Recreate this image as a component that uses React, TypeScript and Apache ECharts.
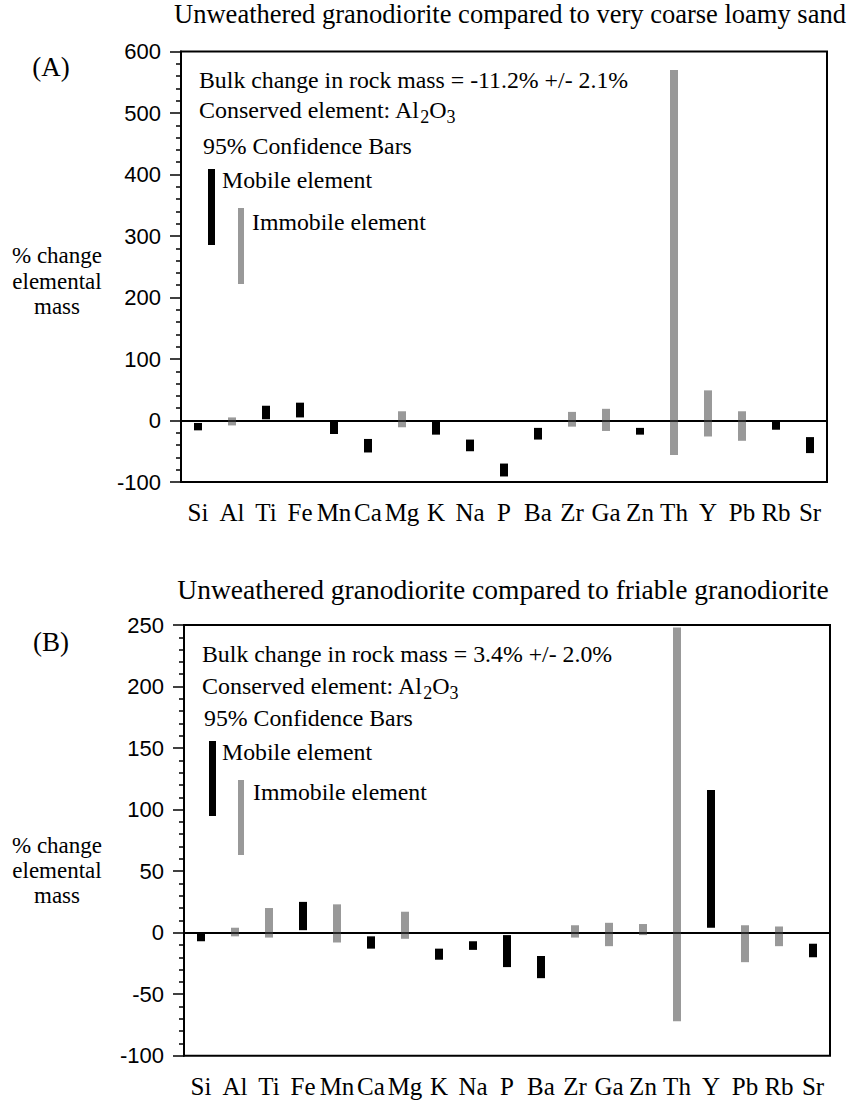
import React, { useEffect, useRef } from "react";
import * as echarts from "echarts";

const elements = ["Si", "Al", "Ti", "Fe", "Mn", "Ca", "Mg", "K", "Na", "P", "Ba", "Zr", "Ga", "Zn", "Th", "Y", "Pb", "Rb", "Sr"];

// Panel A: unweathered granodiorite vs very coarse loamy sand (95% confidence range, % change)
const lowA = [-16, -8, 2, 5, -22, -52, -11, -23, -50, -91, -31, -10, -17, -23, -56, -26, -33, -15, -53];
const highA = [-4, 5, 24, 29, -1, -30, 15, -1, -31, -70, -12, 14, 19, -12, 570, 49, 15, 0, -27];
// 1 = mobile element (black), 0 = immobile element (grey)
const mobileA = [1, 0, 1, 1, 1, 1, 0, 1, 1, 1, 1, 0, 0, 1, 0, 0, 0, 1, 1];

// Panel B: unweathered granodiorite vs friable granodiorite
const lowB = [-7, -3, -4, 2, -8, -13, -5, -22, -14, -28, -37, -4, -11, -2, -72, 4, -24, -11, -20];
const highB = [-1, 4, 20, 25, 23, -3, 17, -13, -7, -2, -19, 6, 8, 7, 248, 116, 6, 5, -9];
const mobileB = [1, 0, 0, 1, 0, 1, 0, 1, 1, 1, 1, 0, 0, 0, 0, 1, 0, 0, 1];

const yTicksA = { min: -100, max: 600, interval: 100 };
const yTicksB = { min: -100, max: 250, interval: 50 };

const titleA = "Unweathered granodiorite compared to very coarse loamy sand";
const titleB = "Unweathered granodiorite compared to friable granodiorite";
const bulkA = "Bulk change in rock mass = -11.2% +/- 2.1%";
const bulkB = "Bulk change in rock mass = 3.4% +/- 2.0%";

const SERIF = "Liberation Serif";
const SANS = "Liberation Sans";
const BLACK = "#000000";
const GREY = "#999999";

function barSeries(gridIndex: number, low: number[], high: number[], mobile: number[]) {
  return {
    type: "custom",
    xAxisIndex: gridIndex,
    yAxisIndex: gridIndex,
    data: elements.map((_, i) => [i, low[i], high[i], mobile[i]]),
    encode: { x: 0, y: [1, 2] },
    renderItem: (params: any, api: any) => {
      const idx = api.value(0);
      const top = api.coord([idx, api.value(2)]);
      const bot = api.coord([idx, api.value(1)]);
      const w = 8;
      return {
        type: "rect",
        shape: { x: top[0] - w / 2, y: top[1], width: w, height: bot[1] - top[1] },
        style: { fill: api.value(3) === 1 ? BLACK : GREY },
      };
    },
    markLine: {
      silent: true,
      symbol: ["none", "none"],
      label: { show: false },
      lineStyle: { color: BLACK, width: 1.5, type: "solid" },
      data: [{ yAxis: 0 }],
    },
    z: 3,
  };
}

function xAxis(gridIndex: number) {
  return {
    type: "category",
    gridIndex,
    data: elements,
    boundaryGap: true,
    axisLine: { lineStyle: { color: BLACK, width: 2 } },
    axisTick: { alignWithLabel: true, length: 12, lineStyle: { color: BLACK, width: 2 } },
    axisLabel: { color: BLACK, fontFamily: SERIF, fontSize: 25, margin: 18, interval: 0 },
    splitLine: { show: false },
  };
}

function yAxis(gridIndex: number, t: { min: number; max: number; interval: number }) {
  return {
    type: "value",
    gridIndex,
    min: t.min,
    max: t.max,
    interval: t.interval,
    axisLine: { show: true, lineStyle: { color: BLACK, width: 2 } },
    axisTick: { show: true, length: 11, lineStyle: { color: BLACK, width: 1.5 } },
    minorTick: { show: true, splitNumber: 5, length: 5, lineStyle: { color: BLACK, width: 1.5 } },
    axisLabel: { color: BLACK, fontFamily: SANS, fontSize: 22, margin: 20 },
    splitLine: { show: false },
    minorSplitLine: { show: false },
  };
}

function txt(text: string, x: number, y: number, size: number, align = "left") {
  return {
    type: "text",
    x,
    y,
    silent: true,
    style: {
      text,
      fill: BLACK,
      fontSize: size,
      fontFamily: SERIF,
      textAlign: align,
      textVerticalAlign: "middle",
    },
  };
}

function conserved(x: number, y: number) {
  return {
    type: "text",
    x,
    y,
    silent: true,
    style: {
      text: "{m|Conserved element: Al}{s|2}{m|O}{s|3}",
      fill: BLACK,
      fontSize: 24,
      fontFamily: SERIF,
      textAlign: "left",
      textVerticalAlign: "middle",
      rich: {
        m: { fontSize: 24, fontFamily: SERIF, fill: BLACK },
        s: { fontSize: 18, fontFamily: SERIF, fill: BLACK, padding: [14, 0, 0, 0] },
      },
    },
  };
}

function rect(x: number, y: number, w: number, h: number, fill: string) {
  return { type: "rect", silent: true, shape: { x, y, width: w, height: h }, style: { fill } };
}

export default function App() {
  const ref = useRef<HTMLDivElement>(null);
  useEffect(() => {
    if (!ref.current) return;
    const chart = echarts.init(ref.current, undefined, { renderer: "svg" });
    chart.setOption({
      animation: false,
      backgroundColor: "#ffffff",
      grid: [
        { left: 181, top: 51.5, width: 646, height: 430.5, show: true, borderColor: BLACK, borderWidth: 2 },
        { left: 184, top: 625, width: 646, height: 430.7, show: true, borderColor: BLACK, borderWidth: 2 },
      ],
      xAxis: [xAxis(0), xAxis(1)],
      yAxis: [yAxis(0, yTicksA), yAxis(1, yTicksB)],
      series: [barSeries(0, lowA, highA, mobileA), barSeries(1, lowB, highB, mobileB)],
      graphic: [
        // Panel A
        txt(titleA, 510, 14, 26.5, "center"),
        txt("(A)", 51, 67, 27, "center"),
        txt("% change", 57, 255, 23, "center"),
        txt("elemental", 57, 281, 23, "center"),
        txt("mass", 57, 306, 23, "center"),
        txt(bulkA, 199, 80, 23.8),
        conserved(199, 110),
        txt("95% Confidence Bars", 203, 146, 23.8),
        rect(208, 169, 7, 76, BLACK),
        txt("Mobile element", 222, 180, 23.8),
        rect(238, 208, 6, 76, GREY),
        txt("Immobile element", 252, 222, 23.8),
        // Panel B
        txt(titleB, 503, 589, 27.5, "center"),
        txt("(B)", 51, 642, 27, "center"),
        txt("% change", 57, 845, 23, "center"),
        txt("elemental", 57, 870, 23, "center"),
        txt("mass", 57, 895, 23, "center"),
        txt(bulkB, 202, 654, 23.8),
        conserved(202, 686),
        txt("95% Confidence Bars", 204, 718, 23.8),
        rect(209, 741, 7, 75, BLACK),
        txt("Mobile element", 222, 752, 23.8),
        rect(238, 780, 6, 75, GREY),
        txt("Immobile element", 253, 792, 23.8),
      ],
    });
    return () => chart.dispose();
  }, []);
  return (
    <div
      ref={ref}
      style={{ position: "absolute", left: 0, top: 0, width: 848, height: 1103, background: "#fff" }}
    />
  );
}
